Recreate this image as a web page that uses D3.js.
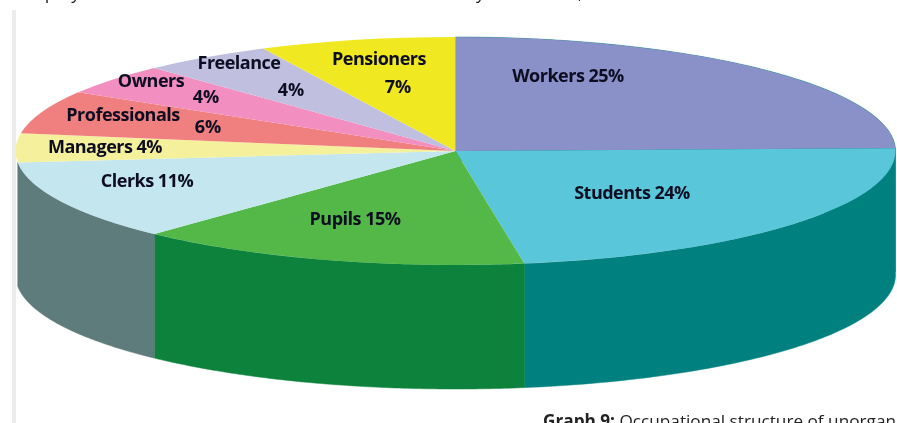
<!DOCTYPE html>
<html><head><meta charset="utf-8">
<script src="https://cdn.jsdelivr.net/npm/d3@7"></script>
<style>html,body{margin:0;padding:0;background:#fff;overflow:hidden}svg{display:block}</style>
</head><body><svg id="c" width="897" height="423"></svg>
<script>
const categories = ["Workers","Students","Pupils","Clerks","Managers","Professionals","Owners","Freelance","Pensioners"];
const labelledPercent = [25,24,15,11,4,6,4,4,7];
// slice sizes as they are actually drawn in the picture (read from the slice edges)
const drawnShare = [24.6,22.9,14.5,11.4,4.1,6.1,4.4,4.8,7.2];
const topColors = ["#8a90c8","#5ac6da","#52b847","#c3e6ef","#f5f09b","#f08080","#f28fc0","#c0bfe0","#f0e920"];
const sideColors = ["#06807f","#06807f","#0a823c","#5f7b7c","#5f7b7c","#5f7b7c","#5f7b7c","#5f7b7c","#5f7b7c"];
const labelLines = [["Workers 25%"],["Students 24%"],["Pupils 15%"],["Clerks 11%"],["Managers 4%"],["Professionals","6%"],["Owners","4%"],["Freelance","4%"],["Pensioners","7%"]];
const croppedTopWords = ["employed","y",","];

const W=897,H=423,cx=455.5,cy=151,rx=440,ry=114,depth=124;
const svg=d3.select("#c");
const defs=svg.append("defs");
defs.append("filter").attr("id","soft").append("feGaussianBlur").attr("stdDeviation",0.6);
defs.append("filter").attr("id","softT").append("feGaussianBlur").attr("stdDeviation",0.4);

svg.append("rect").attr("x",12).attr("y",10).attr("width",4).attr("height",H-10).attr("fill","#ececec").attr("filter","url(#soft)");

const pie=d3.pie().sort(null).value(d=>d)(drawnShare);
const px=a=>cx+rx*Math.sin(a), py=a=>cy-ry*Math.cos(a);

const chart=svg.append("g").attr("filter","url(#soft)");
const wallLine=d3.line();
pie.forEach((s,i)=>{
  if(i>3) return;
  const a0=s.startAngle, a1=s.endAngle;
  const as=d3.range(0,81).map(k=>a0+(a1-a0)*k/80);
  const pts=as.map(a=>[px(a),py(a)]).concat(as.slice().reverse().map(a=>[px(a),py(a)+depth]));
  chart.append("path").attr("d",wallLine(pts)+"Z").attr("fill",sideColors[i]).attr("stroke",sideColors[i]).attr("stroke-width",0.5);
});
const arc=d3.arc().innerRadius(0).outerRadius(rx);
chart.append("g").attr("transform",`translate(${cx},${cy}) scale(1,${ry/rx})`)
 .selectAll("path").data(pie).join("path").attr("d",arc).attr("fill",(d,i)=>topColors[i]);

const labelPos=[[568,76],[632,193],[355,219],[147,181],[105,147],[123,115],[151,81],[239,63],[379,59]];
const line2Pos={5:[208,127],6:[206,97],7:[291,90],8:[398,87]};
const tg=svg.append("g").attr("filter","url(#softT)").attr("font-family","'Open Sans',sans-serif").attr("font-weight",700).attr("font-size",18).attr("fill","#0c0c20").attr("text-anchor","middle");
labelLines.forEach((ls,i)=>{
  tg.append("text").attr("x",labelPos[i][0]).attr("y",labelPos[i][1]+6).text(ls[0]).attr("letter-spacing",-0.5);
  if(ls[1]) tg.append("text").attr("x",line2Pos[i][0]).attr("y",line2Pos[i][1]+6).text(ls[1]);
});

const page=svg.append("g").attr("filter","url(#softT)").attr("font-family","'Open Sans',sans-serif").attr("fill","#222");
page.append("text").attr("x",543).attr("y",427).attr("font-size",17.2).html('<tspan font-weight="700">Graph 9:</tspan> Occupational structure of unorgan');
const topX=[18,476,578];
croppedTopWords.forEach((w,i)=>page.append("text").attr("x",topX[i]).attr("y",-1).attr("font-size",18).text(w));
</script></body></html>
